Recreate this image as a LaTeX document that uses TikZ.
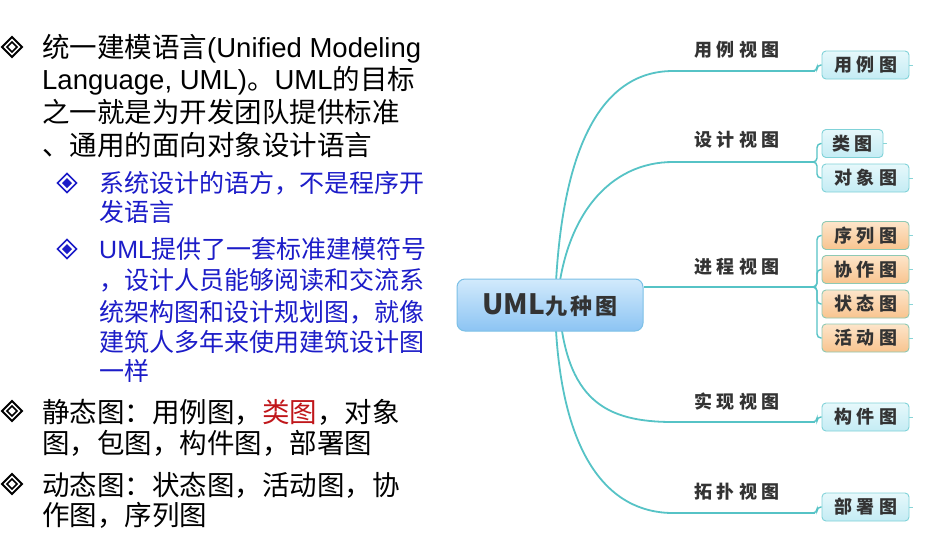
\documentclass[tikz,border=0pt]{standalone}
\usepackage{fontspec}
\setmainfont{Liberation Sans}
\newfontfamily\cjk{Noto Sans CJK SC}
\newfontfamily\mmf[LetterSpace=25]{Noto Sans CJK SC}
\newfontfamily\mmc[LetterSpace=14]{Noto Sans CJK SC}
\usetikzlibrary{backgrounds}
\definecolor{brl}{HTML}{56C3C6}
\definecolor{subblue}{HTML}{1C1CC8}
\definecolor{redc}{HTML}{C0161A}
\definecolor{txtc}{HTML}{333333}
\definecolor{leafbd}{HTML}{80D2D8}
\definecolor{leaftop}{HTML}{E6F8FB}
\definecolor{leafbot}{HTML}{C4ECF4}
\definecolor{orbd}{HTML}{8EC9B4}
\definecolor{ortop}{HTML}{FDE5CA}
\definecolor{orbot}{HTML}{F8C48F}
\definecolor{cbd}{HTML}{7CC0E6}
\definecolor{ctop}{HTML}{D2EAFC}
\definecolor{cbot}{HTML}{8CC4F3}
\tikzset{
  maintxt/.style={anchor=base west, inner sep=0pt, font=\cjk\fontsize{27.5}{33}\selectfont, text=black},
  subtxt/.style={anchor=base west, inner sep=0pt, font=\cjk\fontsize{25}{30}\selectfont, text=subblue},
  mbul/.pic={
    \draw[black, line width=1.8pt, line join=miter] (-10,0) -- (0,-10) -- (10,0) -- (0,10) -- cycle;
    \draw[black, line width=1.6pt, line join=miter] (-5,0) -- (0,-5) -- (5,0) -- (0,5) -- cycle;
  },
  sbul/.pic={
    \draw[subblue, line width=1.5pt, line join=miter] (-9.5,0) -- (0,-9.5) -- (9.5,0) -- (0,9.5) -- cycle;
    \fill[subblue] (-5,0) -- (0,-5) -- (5,0) -- (0,5) -- cycle;
  },
  leafb/.style={draw=leafbd, line width=0.9pt, rounded corners=4pt, top color=leaftop, bottom color=leafbot,
    minimum width=87pt, minimum height=28pt, inner sep=0pt, font=\mmf\bfseries\fontsize{18}{18}\selectfont, text=txtc},
  leafo/.style={leafb, draw=orbd, top color=ortop, bottom color=orbot},
  lbl/.style={inner sep=0pt, font=\mmf\bfseries\fontsize{18}{18}\selectfont, text=txtc},
  branch/.style={draw=brl, line width=1.8pt, line cap=round},
  hline/.style={draw=brl, line width=1.4pt},
  stub/.style={draw=brl!70, line width=0.8pt},
}
\begin{document}
\begin{tikzpicture}[x=1pt, y=-1pt]
\useasboundingbox (0,0) rectangle (937,536);

% ---------- left text ----------
\pic at (12,47) {mbul};
\node[maintxt] (m1) at (42,57.5) {统一建模语言{\rmfamily(Unified Modeling}};
\node[maintxt] (m2) at (42,89.5) {{\rmfamily Language, UML)}。{\rmfamily UML}的目标};
\node[maintxt] (m3) at (42,122.5) {之一就是为开发团队提供标准};
\node[maintxt] (m4) at (42,155.5) {、通用的面向对象设计语言};

\pic at (67,183) {sbul};
\node[subtxt] (s1) at (99,192.5) {系统设计的语方，不是程序开};
\node[subtxt] (s2) at (99,221.5) {发语言};
\pic at (67,249) {sbul};
\node[subtxt] (s3) at (99,258.5) {{\rmfamily UML}提供了一套标准建模符号};
\node[subtxt] (s4) at (99,289.5) {，设计人员能够阅读和交流系};
\node[subtxt] (s5) at (99,321.5) {统架构图和设计规划图，就像};
\node[subtxt] (s6) at (99,351.5) {建筑人多年来使用建筑设计图};
\node[subtxt] (s7) at (99,380.5) {一样};

\pic at (12,411) {mbul};
\node[maintxt] (m5) at (42,422.5) {静态图：用例图，{\color{redc}类图}，对象};
\node[maintxt] (m6) at (42,453.5) {图，包图，构件图，部署图};
\pic at (12,484) {mbul};
\node[maintxt] (m7) at (42,495.5) {动态图：状态图，活动图，协};
\node[maintxt] (m8) at (42,525.5) {作图，序列图};

% ---------- mind map ----------
\node[draw=cbd, line width=1pt, rounded corners=8pt, top color=ctop, bottom color=cbot,
  minimum width=186pt, minimum height=52pt, inner sep=0pt, text=txtc] (c) at (550,305)
  {{\cjk\bfseries\fontsize{28}{28}\selectfont UML}{\mmc\bfseries\fontsize{22}{22}\selectfont 九种图}};

\coordinate (h1) at (673,71);  \coordinate (t1) at (815,71);
\coordinate (h2) at (673,162); \coordinate (t2) at (815,162);
\coordinate (t3) at (815,287);
\coordinate (h4) at (673,422); \coordinate (t4) at (815,422);
\coordinate (h5) at (673,513); \coordinate (t5) at (815,513);

\node[lbl] (v1) at (737,50) {用例视图};
\node[lbl] (v2) at (737,140) {设计视图};
\node[lbl] (v3) at (737,267) {进程视图};
\node[lbl] (v4) at (737,402) {实现视图};
\node[lbl] (v5) at (737,492) {拓扑视图};

\node[leafb] (l1) at (865.5,65) {用例图};
\node[leafb, minimum width=61pt] (l2) at (852.5,143.5) {类图};
\node[leafb] (l3) at (865.5,178) {对象图};
\node[leafo] (l4) at (865.5,235.5) {序列图};
\node[leafo] (l5) at (865.5,269.5) {协作图};
\node[leafo] (l6) at (865.5,304) {状态图};
\node[leafo] (l7) at (865.5,338) {活动图};
\node[leafb] (l8) at (865.5,417) {构件图};
\node[leafb] (l9) at (865.5,507) {部署图};

\begin{scope}[on background layer]
\fill[white] (0,0) rectangle (937,536);
\draw[branch] ([xshift=5pt]c.center) .. controls (560,140) and (605,71) .. (h1);
\draw[branch] ([xshift=7pt]c.center) .. controls (564,215) and (610,162) .. (h2);
\draw[branch] ([xshift=9pt]c.center) .. controls (566,400) and (605,422) .. (h4);
\draw[branch] ([xshift=5pt]c.center) .. controls (558,455) and (608,513) .. (h5);
\end{scope}

\draw[hline] (h1) -- (t1);
\draw[hline] (h2) -- (t2);
\draw[hline] (c.east |- t3) -- (t3);
\draw[hline] (h4) -- (t4);
\draw[hline] (h5) -- (t5);

\draw[hline, rounded corners=4pt] (t1) -- ++(2,0) |- (l1.west);
\draw[hline, rounded corners=4pt] (t2) -- ++(2,0) |- (l2.west);
\draw[hline, rounded corners=4pt] (t2) -- ++(2,0) |- (l3.west);
\draw[hline, rounded corners=4pt] (t3) -- ++(2,0) |- (l4.west);
\draw[hline, rounded corners=4pt] (t3) -- ++(2,0) |- (l5.west);
\draw[hline, rounded corners=4pt] (t3) -- ++(2,0) |- (l6.west);
\draw[hline, rounded corners=4pt] (t3) -- ++(2,0) |- (l7.west);
\draw[hline, rounded corners=4pt] (t4) -- ++(2,0) |- (l8.west);
\draw[hline, rounded corners=4pt] (t5) -- ++(2,0) |- (l9.west);

\foreach \l in {l1,l2,l3,l4,l5,l6,l7,l8,l9}
  \draw[stub] (\l.east) -- ++(4,0);
\end{tikzpicture}
\end{document}
